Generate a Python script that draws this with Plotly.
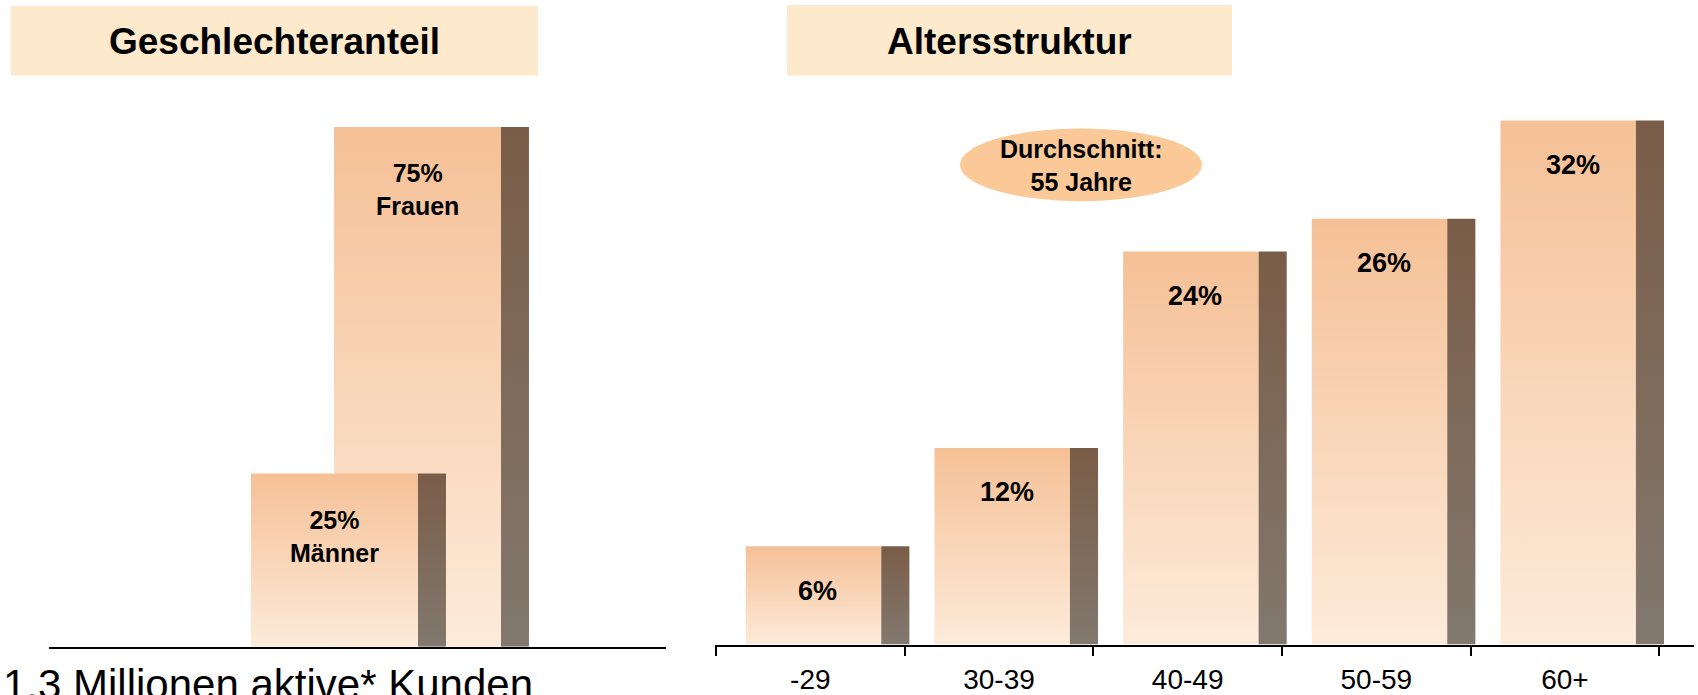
import plotly.graph_objects as go

# Data
gender_labels = ["Männer", "Frauen"]
gender_share = [25, 75]
age_groups = ["-29", "30-39", "40-49", "50-59", "60+"]
age_share = [6, 12, 24, 26, 32]
average_age = 55
customer_note = "1,3 Millionen aktive* Kunden"
panel_titles = ["Geschlechteranteil", "Altersstruktur"]

# Canvas and style
W, H = 1698, 695
FONT = "Liberation Sans, Arial, Helvetica, sans-serif"
FACE_TOP, FACE_BOTTOM = "#F5C096", "#FDEBDA"
SIDE_TOP, SIDE_BOTTOM = "#7A5D48", "#82786E"
BOX = "#FDEACC"
BUBBLE = "#FBC997"


def px_x(p):
    return p / W


def px_y(p):
    return 1 - p / H


fig = go.Figure()


def add_bar(x_left, x_mid, x_right, value, xa, ya):
    """Front face plus darker side face, each with a vertical gradient."""
    fig.add_trace(go.Scatter(
        x=[x_left, x_mid, x_mid, x_left, x_left], y=[0, 0, value, value, 0],
        fill="toself", mode="lines", line=dict(width=0),
        fillgradient=dict(type="vertical",
                          colorscale=[[0, FACE_BOTTOM], [1, FACE_TOP]]),
        xaxis=xa, yaxis=ya, hoverinfo="skip", showlegend=False))
    fig.add_trace(go.Scatter(
        x=[x_mid, x_right, x_right, x_mid, x_mid], y=[0, 0, value, value, 0],
        fill="toself", mode="lines", line=dict(width=0),
        fillgradient=dict(type="vertical",
                          colorscale=[[0, SIDE_BOTTOM], [1, SIDE_TOP]]),
        xaxis=xa, yaxis=ya, hoverinfo="skip", showlegend=False))


# Left panel: overlapping gender bars (larger share drawn behind)
G_HALF, G_SIDE = 1.006, 0.337
order = sorted(range(len(gender_share)), key=lambda i: -gender_share[i])
for i in order:
    add_bar(i - G_HALF, i + G_HALF, i + G_HALF + G_SIDE, gender_share[i], "x", "y")

# Right panel: age bars
A_LEFT, A_MID, A_RIGHT = -0.342, 0.376, 0.525
for i, v in enumerate(age_share):
    add_bar(i + A_LEFT, i + A_MID, i + A_RIGHT, v, "x2", "y2")

annotations = []
for i, (lab, v) in enumerate(zip(gender_labels, gender_share)):
    annotations.append(dict(
        x=i, y=v, xref="x", yref="y", text=f"<b>{v}%<br>{lab}</b>",
        showarrow=False, yanchor="middle", yshift=-63,
        font=dict(family=FONT, size=25, color="black")))
for i, v in enumerate(age_share):
    annotations.append(dict(
        x=i + 0.04, y=v, xref="x2", yref="y2", text=f"<b>{v}%</b>",
        showarrow=False, yanchor="middle", yshift=-44.5,
        font=dict(family=FONT, size=27, color="black")))

# Panel title boxes
shapes = [
    dict(type="rect", xref="paper", yref="paper", x0=px_x(11), x1=px_x(538),
         y0=px_y(76), y1=px_y(6), fillcolor=BOX, line=dict(width=0), layer="below"),
    dict(type="rect", xref="paper", yref="paper", x0=px_x(787), x1=px_x(1232),
         y0=px_y(76), y1=px_y(5), fillcolor=BOX, line=dict(width=0), layer="below"),
    dict(type="circle", xref="paper", yref="paper", x0=px_x(960), x1=px_x(1202),
         y0=px_y(202), y1=px_y(129), fillcolor=BUBBLE, line=dict(width=0)),
]
for cx, title in zip([274.5, 1009.5], panel_titles):
    annotations.append(dict(
        x=px_x(cx), y=px_y(41.5), xref="paper", yref="paper",
        text=f"<b>{title}</b>", showarrow=False, xanchor="center", yanchor="middle",
        font=dict(family=FONT, size=37, color="black")))

annotations.append(dict(
    x=px_x(1081), y=px_y(166), xref="paper", yref="paper",
    text=f"<b>Durchschnitt:<br>{average_age} Jahre</b>", showarrow=False,
    xanchor="center", yanchor="middle",
    font=dict(family=FONT, size=25, color="black")))

annotations.append(dict(
    x=px_x(1), y=px_y(687), xref="paper", yref="paper", text=customer_note,
    showarrow=False, xanchor="left", yanchor="middle",
    font=dict(family=FONT, size=42, color="black")))

# Axis geometry (pixels)
G_AX_L, G_AX_R, G_BASE, G_SCALE, G_UNIT, G_ORIGIN = 49, 666, 649.5, 6.96, 83.0, 334.5
A_AX_L, A_AX_R, A_BASE, A_SCALE, A_STEP, A_FIRST = 715, 1694, 647.3, 16.45, 188.66, 716

fig.update_layout(
    width=W, height=H, margin=dict(l=0, r=0, t=0, b=0),
    paper_bgcolor="white", plot_bgcolor="white", showlegend=False,
    shapes=shapes, annotations=annotations,
    xaxis=dict(domain=[px_x(G_AX_L), px_x(G_AX_R)],
               range=[(G_AX_L - G_ORIGIN) / G_UNIT, (G_AX_R - G_ORIGIN) / G_UNIT],
               showline=True, linecolor="black", linewidth=2, showgrid=False,
               zeroline=False, showticklabels=False, ticks="", anchor="y"),
    yaxis=dict(domain=[px_y(G_BASE), 1], range=[0, G_BASE / G_SCALE],
               visible=False, anchor="x"),
    xaxis2=dict(domain=[px_x(A_AX_L), px_x(A_AX_R)],
                range=[-0.5 + (A_AX_L - A_FIRST) / A_STEP, -0.5 + (A_AX_R - A_FIRST) / A_STEP],
                showline=True, linecolor="black", linewidth=2, showgrid=False,
                zeroline=False, tickmode="array",
                tickvals=list(range(len(age_groups))), ticktext=age_groups,
                ticks="outside", ticklen=9, tickcolor="rgba(0,0,0,0)",
                tickfont=dict(family=FONT, size=28, color="black"),
                minor=dict(tickmode="array",
                           tickvals=[k - 0.5 for k in range(len(age_groups) + 1)],
                           ticks="outside", ticklen=9, tickwidth=2, tickcolor="black",
                           showgrid=False),
                anchor="y2"),
    yaxis2=dict(domain=[px_y(A_BASE), 1], range=[0, A_BASE / A_SCALE],
                visible=False, anchor="x2"),
)

fig.write_html("out.html")
